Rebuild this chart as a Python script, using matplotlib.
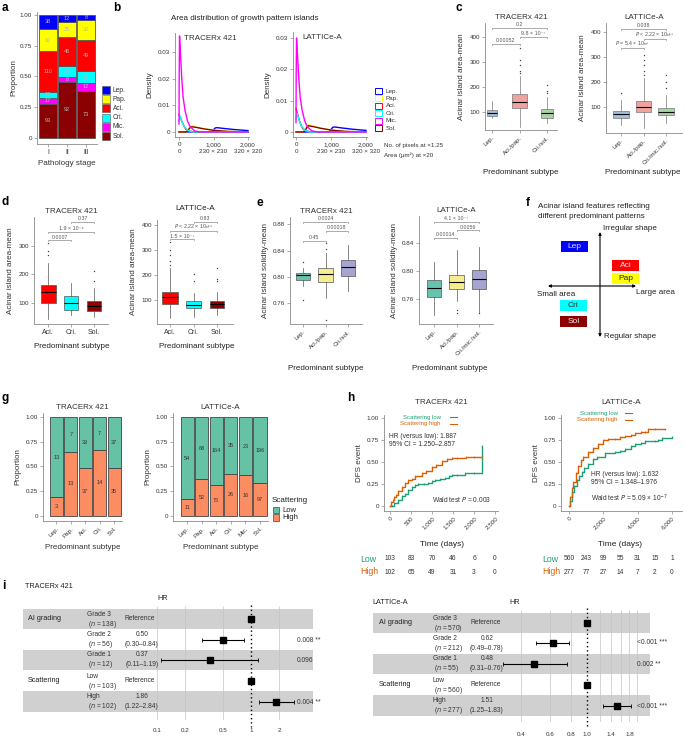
import numpy as np
import matplotlib.pyplot as plt
import matplotlib.transforms as mtransforms
from matplotlib.patches import Rectangle, FancyArrowPatch
from matplotlib.ticker import NullLocator

plt.rcParams['font.family'] = ['Liberation Sans', 'DejaVu Sans']

W, H = 685, 736

# ---------------- data ----------------
pattern_names = ['Lep.', 'Pap.', 'Aci.', 'Cri.', 'Mic.', 'Sol.']
pattern_colors = ['#0000FF', '#FFFF00', '#FF0000', '#00FFFF', '#FF00FF', '#8B0000']

# a: counts per pathology stage
stages = ['I', 'II', 'III']
stage_lep = [38, 12, 8]
stage_pap = [62, 25, 30]
stage_aci = [110, 46, 49]
stage_cri = [17, 19, 18]
stage_mic = [17, 8, 12]
stage_sol = [93, 92, 73]

# b: density curves (pixels at x1.25)
dens_x_mic = [0, 5, 15, 40, 80, 120, 175, 250, 320, 450, 600, 2000]
dens_tx_mic = [0.003, 0.02, 0.036, 0.030, 0.020, 0.013, 0.008, 0.004, 0.002, 0.0004, 0, 0]
dens_la_mic = [0.003, 0.018, 0.030, 0.025, 0.017, 0.011, 0.007, 0.0035, 0.0017, 0.0004, 0, 0]
dens_x_aci = [0, 50, 100, 150, 200, 300, 400, 600, 2000]
dens_tx_aci = [0.0065, 0.005, 0.0035, 0.002, 0.001, 0.0003, 0.0001, 0, 0]
dens_la_aci = [0.0075, 0.0055, 0.0035, 0.002, 0.001, 0.0003, 0.0001, 0, 0]
dens_x_cri = [0, 30, 80, 150, 250, 400, 2000]
dens_tx_cri = [0.004, 0.006, 0.004, 0.002, 0.0006, 0, 0]
dens_la_cri = [0.004, 0.006, 0.004, 0.002, 0.0006, 0, 0]
dens_x_mid = [0, 200, 260, 300, 350, 400, 500, 700, 1000, 1400, 2000]
dens_tx_pap = [0, 0, 0.0005, 0.0015, 0.0022, 0.0021, 0.0018, 0.0012, 0.0007, 0.0002, 0]
dens_tx_sol = [0, 0, 0.0004, 0.0013, 0.0019, 0.0019, 0.0017, 0.0012, 0.0006, 0.0002, 0]
dens_la_pap = [0, 0, 0.0005, 0.0016, 0.0023, 0.0022, 0.0018, 0.0012, 0.0007, 0.0002, 0]
dens_la_sol = [0, 0, 0.0004, 0.0013, 0.0020, 0.0019, 0.0017, 0.0012, 0.0006, 0.0002, 0]
dens_x_lep = [0, 950, 1000, 1050, 1100, 1300, 1600, 2000]
dens_tx_lep = [0, 0, 0.0008, 0.0015, 0.0016, 0.0013, 0.0009, 0.0005]
dens_la_lep = [0, 0, 0.0008, 0.0015, 0.0016, 0.0013, 0.0009, 0.0005]

# c: acinar island area-mean (whislo, q1, med, q3, whishi)
c_tx_groups = ['Lep.', 'Aci./pap.', 'Cri./sol.']
c_tx_box = [[75, 85, 95, 110, 145], [40, 115, 141, 171, 244], [55, 76, 95, 112, 160]]
c_tx_out = [[], [355, 310, 290, 265, 255], [210, 185, 175]]
c_tx_sig = [(1, 3, 437, '0.2'), (2, 3, 400, '9.8 × 10⁻⁷'), (1, 2, 372, '0.00052')]
c_la_groups = ['Lep.', 'Aci./pap.', 'Cri./mic./sol.']
c_la_box = [[28, 55, 72, 85, 130], [16, 79, 101, 124, 216], [36, 68, 81, 95, 148]]
c_la_out = [[155], [308, 290, 270, 245, 230], [230, 200, 175]]
c_la_sig = [(1, 3, 412, '0.038'), (2, 3, 372, '$P$ < 2.22 × 10⁻¹⁶'), (1, 2, 336, '$P$ = 5.4 × 10⁻⁶')]

# d
d_groups = ['Aci.', 'Cri.', 'Sol.']
d_tx_box = [[42, 99, 138, 161, 240], [56, 74, 98, 124, 170], [50, 70, 88, 105, 151]]
d_tx_out = [[310, 280, 265], [], [210, 175]]
d_tx_sig = [(2, 3, 383, '0.37'), (1, 3, 348, '1.9 × 10⁻⁴'), (1, 2, 319, '0.0007')]
d_la_box = [[28, 84, 112, 131, 228], [33, 67, 80, 97, 128], [40, 67, 84, 97, 133]]
d_la_out = [[333, 300, 280, 255, 240], [205, 175], [230, 185, 175]]
d_la_sig = [(2, 3, 413, '0.83'), (1, 3, 377, '$P$ < 2.22 × 10⁻¹⁶'), (1, 2, 344, '1.5 × 10⁻⁷')]

# e: solidity-mean
e_tx_groups = ['Lep.', 'Aci./pap.', 'Cri./sol.']
e_tx_box = [[0.786, 0.7954, 0.803, 0.8056, 0.813], [0.768, 0.793, 0.804, 0.814, 0.837],
            [0.778, 0.802, 0.815, 0.826, 0.849]]
e_tx_out = [[0.765, 0.822], [0.735, 0.851, 0.843], []]
e_tx_sig = [(1, 3, 0.884, '0.0024'), (2, 3, 0.870, '0.00018'), (1, 2, 0.855, '0.45')]
e_la_groups = ['Lep.', 'Aci./pap.', 'Cri./mic./sol.']
e_la_box = [[0.737, 0.763, 0.7765, 0.787, 0.813], [0.757, 0.774, 0.784, 0.795, 0.83],
            [0.742, 0.775, 0.788, 0.801, 0.834]]
e_la_out = [[], [0.745, 0.740], [0.740]]
e_la_sig = [(1, 3, 0.870, '4.1 × 10⁻⁷'), (2, 3, 0.858, '0.0056'), (1, 2, 0.847, '0.00014')]

# g: scattering counts
g_tx_groups = ['Lep.', 'Pap.', 'Aci.', 'Cri.', 'Sol.']
g_tx_low = [13, 7, 39, 7, 37]
g_tx_high = [3, 13, 37, 14, 35]
g_la_groups = ['Lep.', 'Pap.', 'Aci.', 'Cri.', 'Mic.', 'Sol.']
g_la_low = [54, 88, 164, 35, 23, 196]
g_la_high = [11, 52, 75, 26, 16, 97]

# h: DFS event curves
km_tx_high_t = [0, 30, 60, 100, 150, 200, 280, 350, 420, 516, 600, 754, 850, 992, 1100, 1230, 1350, 1468, 1600, 1800, 2000, 2200]
km_tx_high_s = [0, 0.04, 0.07, 0.10, 0.13, 0.17, 0.22, 0.26, 0.29, 0.31, 0.34, 0.37, 0.40, 0.445, 0.47, 0.51, 0.53, 0.55, 0.55, 0.555, 0.555, 0.555]
km_tx_low_t = [0, 50, 100, 198, 280, 357, 440, 516, 600, 675, 800, 913, 1000, 1071, 1200, 1310, 1400, 1468, 1600, 1786, 2000, 2183, 2200]
km_tx_low_s = [0, 0.005, 0.03, 0.07, 0.11, 0.14, 0.18, 0.22, 0.235, 0.245, 0.25, 0.26, 0.28, 0.30, 0.31, 0.32, 0.34, 0.35, 0.355, 0.37, 0.37, 0.37, 0.68]
km_la_high_t = [0, 50, 150, 250, 400, 540, 700, 835, 1126, 1417, 1700, 2000, 2300, 2680, 3000, 3260, 3600, 3845, 4200, 4450, 4620, 5000, 5590]
km_la_high_s = [0, 0.10, 0.20, 0.27, 0.38, 0.46, 0.52, 0.56, 0.615, 0.66, 0.71, 0.75, 0.76, 0.766, 0.78, 0.80, 0.81, 0.83, 0.84, 0.84, 0.87, 0.87, 0.87]
km_la_low_t = [0, 50, 155, 300, 447, 600, 738, 900, 1126, 1400, 1611, 2097, 2680, 3000, 3260, 3600, 3845, 4200, 4427, 5000, 5200, 5400, 5980]
km_la_low_s = [0, 0.06, 0.16, 0.23, 0.29, 0.34, 0.39, 0.43, 0.48, 0.53, 0.56, 0.60, 0.615, 0.63, 0.65, 0.68, 0.71, 0.72, 0.735, 0.74, 0.75, 0.775, 0.785]
risk_tx_times = [0, 500, 1000, 1500, 2000, 2500]
risk_tx_low = [103, 83, 70, 46, 6, 0]
risk_tx_high = [102, 65, 49, 31, 3, 0]
risk_la_times = [0, 1000, 2000, 3000, 4000, 5000, 6000]
risk_la_low = [560, 243, 99, 55, 31, 15, 1]
risk_la_high = [277, 77, 27, 14, 7, 2, 0]

# i: Cox model
fp_rows = ['Grade 3', 'Grade 2', 'Grade 1', 'Low', 'High']
fp_tx_n = [138, 56, 12, 103, 102]
fp_tx_hr = [1, 0.50, 0.37, 1, 1.86]
fp_tx_lo = [np.nan, 0.30, 0.11, np.nan, 1.22]
fp_tx_hi = [np.nan, 0.84, 1.19, np.nan, 2.84]
fp_tx_p = ['', '0.008 **', '0.096', '', '0.004 **']
fp_la_n = [570, 212, 55, 560, 277]
fp_la_hr = [1, 0.62, 0.48, 1, 1.51]
fp_la_lo = [np.nan, 0.49, 0.31, np.nan, 1.25]
fp_la_hi = [np.nan, 0.78, 0.76, np.nan, 1.83]
fp_la_p = ['', '<0.001 ***', '0.002 **', '', '<0.001 ***']

# ---------------- helpers ----------------
AXC = '#8a8a8a'
TXC = '#333333'
fig = plt.figure(figsize=(W / 100, H / 100), dpi=100)
T = mtransforms.Affine2D().scale(1 / W, -1 / H).translate(0, 1) + fig.transFigure


def add_ax(x0, y0, x1, y1):
    return fig.add_axes([x0 / W, 1 - y1 / H, (x1 - x0) / W, (y1 - y0) / H])


def txt(x, y, s, **kw):
    kw.setdefault('fontsize', 6)
    kw.setdefault('color', '#222222')
    fig.text(x, y, s, transform=T, **kw)


def style(ax, ls=4.5):
    ax.spines[['top', 'right']].set_visible(False)
    for s in ['left', 'bottom']:
        ax.spines[s].set_color(AXC)
        ax.spines[s].set_linewidth(0.6)
    ax.tick_params(length=2, width=0.5, color=AXC, labelsize=ls, pad=1.5, labelcolor=TXC)
    ax.set_facecolor('none')


def boxes(ax, stats, outs, colors, widths, ec='#666666'):
    bx = [dict(whislo=s[0], q1=s[1], med=s[2], q3=s[3], whishi=s[4], fliers=o) for s, o in zip(stats, outs)]
    b = ax.bxp(bx, positions=[1, 2, 3], widths=widths, patch_artist=True, showcaps=False,
               boxprops=dict(lw=0.5, edgecolor=ec), medianprops=dict(color='k', lw=0.8),
               whiskerprops=dict(color=ec, lw=0.5),
               flierprops=dict(marker='o', ms=1.0, mfc='#444444', mec='none'))
    for p, c in zip(b['boxes'], colors):
        p.set_facecolor(c)


def brackets(ax, sig):
    y0, y1 = ax.get_ylim()
    d = 0.012 * (y1 - y0)
    for i, j, y, lab in sig:
        ax.plot([i, i, j, j], [y - d, y, y, y - d], color=AXC, lw=0.5, clip_on=False)
        ax.text((i + j) / 2, y + 0.4 * d, lab, ha='center', va='bottom', fontsize=3.8, color='#555555')


# ---------------- panel letters ----------------
for lab, x, y in [('a', 2, 8), ('b', 113, 8), ('c', 456, 8), ('d', 2, 202), ('e', 257, 203),
                  ('f', 526, 203), ('g', 2, 398), ('h', 347, 398), ('i', 2, 586)]:
    txt(x, y, lab, fontsize=8.5, fontweight='bold', color='k', va='center')

# ---------------- a ----------------
ax = add_ax(37, 12, 97, 144)
style(ax)
stacks = [stage_sol, stage_mic, stage_cri, stage_aci, stage_pap, stage_lep]
stack_cols = pattern_colors[::-1]
totals = np.sum(stacks, axis=0)
bottom = np.zeros(3)
for vals, col in zip(stacks, stack_cols):
    prop = np.array(vals) / totals
    ax.bar([1, 2, 3], prop, bottom=bottom, width=0.95, color=col, edgecolor='#555555', lw=0.6)
    for k in range(3):
        ax.text(k + 1, bottom[k] + prop[k] / 2, str(vals[k]), ha='center', va='center', fontsize=4,
                color='#b8b8b8')
    bottom += prop
ax.set_xlim(0.42, 3.58)
ax.set_ylim(-0.049, 1.024)
ax.set_yticks([0, 0.25, 0.5, 0.75, 1])
ax.set_yticklabels(['0', '0.25', '0.50', '0.75', '1.00'])
ax.set_xticks([1, 2, 3])
ax.set_xticklabels(stages)
ax.tick_params(axis='x', labelsize=5)
ax.set_xlabel('Pathology stage', fontsize=5.8, color=TXC, labelpad=3)
ax.set_ylabel('Proportion', fontsize=5.8, color=TXC, labelpad=2)
for k, (nm, col) in enumerate(zip(pattern_names, pattern_colors)):
    yc = 90 + k * 9.2
    fig.add_artist(Rectangle((102, yc - 4), 8, 8, transform=T, fc=col, ec='#555555', lw=0.4))
    txt(113, yc, nm, fontsize=4.8, va='center', color=TXC)

# ---------------- b ----------------
txt(171, 18, 'Area distribution of growth pattern islands', fontsize=5.8, va='center')
dens_sets = [
    (add_ax(175, 33, 249, 137), (-0.0019, 0.0371), (-116, 2029), 'TRACERx 421',
     [dens_tx_lep, dens_tx_pap, dens_tx_aci, dens_tx_cri, dens_tx_mic, dens_tx_sol]),
    (add_ax(293, 32, 367, 137), (-0.0016, 0.0319), (-86, 2029), 'LATTICe-A',
     [dens_la_lep, dens_la_pap, dens_la_aci, dens_la_cri, dens_la_mic, dens_la_sol]),
]
xs_all = [dens_x_lep, dens_x_mid, dens_x_aci, dens_x_cri, dens_x_mic, dens_x_mid]
for ax, yl, xl, title, ys_all in dens_sets:
    style(ax)
    for k in [0, 1, 5, 2, 3, 4]:
        ax.plot(xs_all[k], ys_all[k], color=pattern_colors[k], lw=1.0)
    ax.set_ylim(*yl)
    ax.set_xlim(*xl)
    ax.set_yticks([0, 0.01, 0.02, 0.03])
    ax.set_yticklabels(['0', '0.01', '0.02', '0.03'])
    ax.set_xticks([0, 1000, 2000])
    ax.set_xticklabels(['0\n0', '1,000\n230 × 230', '2,000\n320 × 320'], linespacing=1.45)
    ax.text(0.12, 0.985, title, transform=ax.transAxes, fontsize=5.8, va='top', color=TXC)
    ax.set_ylabel('Density', fontsize=5.8, color=TXC, labelpad=3)
txt(384, 146, 'No. of pixels at ×1.25', fontsize=4.5, va='center', color=TXC)
txt(384, 155.5, 'Area (μm²) at ×20', fontsize=4.5, va='center', color=TXC)
for k, (nm, col) in enumerate(zip(pattern_names, pattern_colors)):
    yc = 91 + k * 7.4
    fig.add_artist(Rectangle((375, yc - 3), 7, 6, transform=T, fc='white', ec=col, lw=0.7))
    txt(386, yc, nm, fontsize=4.5, va='center', color=TXC)

# ---------------- c ----------------
c_cols = ['#a3bfdc', '#f2a29c', '#a9d3a2']
ax = add_ax(485, 23, 557, 130)
style(ax)
boxes(ax, c_tx_box, c_tx_out, c_cols, [0.38, 0.55, 0.42], ec='#777777')
ax.set_xlim(0.745, 3.36)
ax.set_ylim(28, 456)
ax.set_yticks([100, 200, 300, 400])
brackets(ax, c_tx_sig)
ax.set_xticks([1, 2, 3])
ax.set_xticklabels(c_tx_groups, rotation=45, ha='right', rotation_mode='anchor')
ax.set_ylabel('Acinar island area-mean', fontsize=5.8, color=TXC, labelpad=3)
ax.set_title('TRACERx 421', fontsize=5.8, color=TXC, pad=3)
txt(521, 172, 'Predominant subtype', fontsize=5.8, ha='center', va='center')

ax = add_ax(606, 23, 682, 133)
style(ax)
boxes(ax, c_la_box, c_la_out, c_cols, [0.67, 0.67, 0.67], ec='#777777')
ax.set_xlim(0.333, 3.71)
ax.set_ylim(-4, 436)
ax.set_yticks([100, 200, 300, 400])
brackets(ax, c_la_sig)
ax.set_xticks([1, 2, 3])
ax.set_xticklabels(c_la_groups, rotation=45, ha='right', rotation_mode='anchor')
ax.set_ylabel('Acinar island area-mean', fontsize=5.8, color=TXC, labelpad=3)
ax.set_title('LATTICe-A', fontsize=5.8, color=TXC, pad=3)
txt(643, 172, 'Predominant subtype', fontsize=5.8, ha='center', va='center')

# ---------------- d ----------------
d_cols = ['#FF0000', '#00FFFF', '#8B0000']
ax = add_ax(34, 217, 108, 324)
style(ax)
boxes(ax, d_tx_box, d_tx_out, d_cols, [0.65, 0.62, 0.62], ec='#555555')
ax.set_xlim(0.39, 3.6)
ax.set_ylim(24.6, 400)
ax.set_yticks([100, 200, 300])
brackets(ax, d_tx_sig)
ax.set_xticks([1, 2, 3])
ax.set_xticklabels(d_groups)
ax.tick_params(axis='x', labelsize=5)
ax.set_ylabel('Acinar island area-mean', fontsize=5.8, color=TXC, labelpad=3)
ax.set_title('TRACERx 421', fontsize=5.8, color=TXC, pad=3)
txt(72, 347, 'Predominant subtype', fontsize=5.8, ha='center', va='center')

ax = add_ax(157, 220, 233, 324)
style(ax)
boxes(ax, d_la_box, d_la_out, d_cols, [0.65, 0.62, 0.62], ec='#555555')
ax.set_xlim(0.447, 3.68)
ax.set_ylim(4, 420)
ax.set_yticks([100, 200, 300, 400])
brackets(ax, d_la_sig)
ax.set_xticks([1, 2, 3])
ax.set_xticklabels(d_groups)
ax.tick_params(axis='x', labelsize=5)
ax.set_ylabel('Acinar island area-mean', fontsize=5.8, color=TXC, labelpad=3)
txt(195, 209, 'LATTICe-A', fontsize=5.8, ha='center', va='center')
txt(197, 347, 'Predominant subtype', fontsize=5.8, ha='center', va='center')

# ---------------- e ----------------
e_cols = ['#66c4ae', '#f6ee8e', '#a8a4d2']
ax = add_ax(290, 217, 362, 324)
style(ax)
boxes(ax, e_tx_box, e_tx_out, e_cols, [0.62, 0.65, 0.65], ec='#555555')
ax.set_xlim(0.42, 3.62)
ax.set_ylim(0.7285, 0.891)
ax.set_yticks([0.76, 0.80, 0.84, 0.88])
ax.set_yticklabels(['0.76', '0.80', '0.84', '0.88'])
brackets(ax, e_tx_sig)
ax.set_xticks([1, 2, 3])
ax.set_xticklabels(e_tx_groups, rotation=45, ha='right', rotation_mode='anchor')
ax.set_ylabel('Acinar island solidity-mean', fontsize=5.8, color=TXC, labelpad=3)
ax.set_title('TRACERx 421', fontsize=5.8, color=TXC, pad=3)
txt(326, 368, 'Predominant subtype', fontsize=5.8, ha='center', va='center')

ax = add_ax(419, 216, 493, 324)
style(ax)
boxes(ax, e_la_box, e_la_out, e_cols, [0.62, 0.65, 0.65], ec='#555555')
ax.set_xlim(0.333, 3.62)
ax.set_ylim(0.7248, 0.878)
ax.set_yticks([0.76, 0.80, 0.84])
ax.set_yticklabels(['0.76', '0.80', '0.84'])
brackets(ax, e_la_sig)
ax.set_xticks([1, 2, 3])
ax.set_xticklabels(e_la_groups, rotation=45, ha='right', rotation_mode='anchor')
ax.set_ylabel('Acinar island solidity-mean', fontsize=5.8, color=TXC, labelpad=3)
ax.set_title('LATTICe-A', fontsize=5.8, color=TXC, pad=3)
txt(450, 368, 'Predominant subtype', fontsize=5.8, ha='center', va='center')

# ---------------- f ----------------
txt(538, 207, 'Acinar island features reflecting', fontsize=5.8, va='center')
txt(538, 217, 'different predominant patterns', fontsize=5.8, va='center')
for pa, pb in [((600, 337), (600, 232)), ((548, 286), (636, 286))]:
    fig.add_artist(FancyArrowPatch(pa, pb, transform=T, arrowstyle='<|-|>', mutation_scale=4,
                                   lw=0.8, color='k', shrinkA=0, shrinkB=0))
txt(603, 228, 'Irregular shape', fontsize=5.8, va='center')
txt(604, 337, 'Regular shape', fontsize=5.8, va='center')
txt(537, 294, 'Small area', fontsize=5.8, va='center')
txt(636, 292, 'Large area', fontsize=5.8, va='center')
for nm, x0, y0, fc, tc in [('Lep', 561, 241, '#0000FF', '#dddddd'), ('Aci', 612, 260, '#FF0000', '#eeeeee'),
                            ('Pap', 612, 273, '#FFFF00', '#222222'), ('Cri', 560, 300, '#00FFFF', '#333333'),
                            ('Sol', 560, 316, '#8B0000', '#eeeeee')]:
    fig.add_artist(Rectangle((x0, y0), 27, 11, transform=T, fc=fc, ec='none'))
    txt(x0 + 13.5, y0 + 5.7, nm, fontsize=6, ha='center', va='center', color=tc)

# ---------------- g ----------------
low_c, high_c = '#66c2a5', '#fc8d62'
for (x0, x1, title, groups, lows, highs, xl) in [
        (43, 122, 'TRACERx 421', g_tx_groups, g_tx_low, g_tx_high, (0.0625, 5.55)),
        (173, 268, 'LATTICe-A', g_la_groups, g_la_low, g_la_high, (0.034, 6.55))]:
    ax = add_ax(x0, 413, x1, 521)
    style(ax)
    pos = np.arange(1, len(groups) + 1)
    tot = np.array(lows) + np.array(highs)
    ph = np.array(highs) / tot
    ax.bar(pos, ph, width=0.9, color=high_c, edgecolor='#444444', lw=0.6)
    ax.bar(pos, 1 - ph, bottom=ph, width=0.9, color=low_c, edgecolor='#444444', lw=0.6)
    for k in range(len(groups)):
        ax.text(pos[k], ph[k] / 2, str(highs[k]), ha='center', va='center', fontsize=4, color='#333333')
        ax.text(pos[k], ph[k] + (1 - ph[k]) / 2, str(lows[k]), ha='center', va='center', fontsize=4,
                color='#333333')
    ax.set_xlim(*xl)
    ax.set_ylim(-0.051, 1.04)
    ax.set_yticks([0, 0.25, 0.5, 0.75, 1])
    ax.set_yticklabels(['0', '0.25', '0.50', '0.75', '1.00'])
    ax.set_xticks(pos)
    ax.set_xticklabels(groups, rotation=45, ha='right', rotation_mode='anchor')
    ax.set_ylabel('Proportion', fontsize=5.8, color=TXC, labelpad=3)
    ax.set_title(title, fontsize=5.8, color=TXC, pad=3)
    ax.set_xlabel('Predominant subtype', fontsize=5.8, color=TXC, labelpad=4)
txt(272, 501, 'Scattering', fontsize=5.8, va='center')
for k, (nm, col) in enumerate([('Low', low_c), ('High', high_c)]):
    yc = 510 + k * 7.5
    fig.add_artist(Rectangle((273, yc - 3.3), 6.5, 6.6, transform=T, fc=col, ec='#444444', lw=0.5))
    txt(282, yc, nm, fontsize=5.5, va='center')

# ---------------- h ----------------
km_low_c, km_high_c = '#1b9e77', '#d95f02'
km_sets = [
    (384, 498, (-143, 2571), 'TRACERx 421', km_tx_low_t, km_tx_low_s, km_tx_high_t, km_tx_high_s,
     risk_tx_times, risk_tx_low, risk_tx_high, [0, 500, 1000, 1500, 2000, 2500],
     ['0', '500', '1,000', '1,500', '2,000', '2,500'], 442, 360),
    (561, 682, (-466, 6589), 'LATTICe-A', km_la_low_t, km_la_low_s, km_la_high_t, km_la_high_s,
     risk_la_times, risk_la_low, risk_la_high, [0, 2000, 4000, 6000],
     ['0', '2,000', '4,000', '6,000'], 620, 542),
]
for (x0, x1, xl, title, lt, ls_, ht, hs, rt, rl, rh, xt, xtl, cx, lx) in km_sets:
    ax = add_ax(x0, 415, x1, 511)
    style(ax)
    ax.step(lt, ls_, where='post', color=km_low_c, lw=1.0)
    ax.step(ht, hs, where='post', color=km_high_c, lw=1.0)
    ax.plot(lt[1:], ls_[1:], '|', ms=2, mew=0.5, color=km_low_c)
    ax.plot(ht[1:], hs[1:], '|', ms=2, mew=0.5, color=km_high_c)
    ax.set_xlim(*xl)
    ax.set_ylim(-0.057, 1.034)
    ax.set_yticks([0, 0.25, 0.5, 0.75, 1])
    ax.set_yticklabels(['0', '0.25', '0.50', '0.75', '1.00'])
    ax.set_xticks(xt)
    ax.set_xticklabels(xtl, rotation=45, ha='right', rotation_mode='anchor')
    ax.set_ylabel('DFS event', fontsize=5.8, color=TXC, labelpad=3)
    ax.set_title(title, fontsize=5.8, color=TXC, pad=8)
    txt(cx, 544, 'Time (days)', fontsize=6, ha='center', va='center')
    # risk table
    txt(lx, 559, 'Low', fontsize=6.3, va='center', color=km_low_c)
    txt(lx, 572, 'High', fontsize=6.3, va='center', color=km_high_c)
    for t, a, b in zip(rt, rl, rh):
        xp = x0 + (t - xl[0]) / (xl[1] - xl[0]) * (x1 - x0)
        txt(xp, 559, str(a), fontsize=4.8, ha='center', va='center', color=TXC)
        txt(xp, 572, str(b), fontsize=4.8, ha='center', va='center', color=TXC)

# h legends and stats text
for (xr, xl0, y0, y1) in [(441, 450, 417, 424), (618, 625, 413, 420)]:
    txt(xr, y0, 'Scattering low', fontsize=4.3, ha='right', va='center', color=km_low_c)
    txt(xr, y1, 'Scattering high', fontsize=4.3, ha='right', va='center', color=km_high_c)
    fig.add_artist(plt.Line2D([xl0, xl0 + 7], [y0, y0], transform=T, color=km_low_c, lw=0.8))
    fig.add_artist(plt.Line2D([xl0, xl0 + 7], [y1, y1], transform=T, color=km_high_c, lw=0.8))
txt(389, 437, 'HR (versus low): 1.887', fontsize=4.8, va='center', color=TXC)
txt(389, 444, '95% CI = 1.250–2.857', fontsize=4.8, va='center', color=TXC)
txt(432, 499, 'Wald test $P$ = 0.003', fontsize=4.8, va='center', color=TXC)
txt(591, 474, 'HR (versus low): 1.632', fontsize=4.8, va='center', color=TXC)
txt(591, 482, '95% CI = 1.348–1.976', fontsize=4.8, va='center', color=TXC)
txt(591, 498, 'Wald test $P$ = 5.09 × 10$^{-7}$', fontsize=4.8, va='center', color=TXC)

# ---------------- i ----------------
fp_sets = [
    dict(x0=23, x1=313, dec=94, one=251, yc=[619, 640, 660, 681, 702], bands=[(609, 629), (650, 670), (691, 712)],
         top=603, bot=720, dtop=605, dbot=727, n=fp_tx_n, hr=fp_tx_hr, lo=fp_tx_lo, hi=fp_tx_hi, p=fp_tx_p,
         name='TRACERx 421', namex=25, namey=587, hrx=163, hry=599, grpx=28, rowx=87, refx=125, hrcx=142, px=297,
         ticks=[0.1, 0.2, 0.5, 1, 2], tlabs=['0.1', '0.2', '0.5', '1', '2'], grid=[0.1, 0.2, 0.5, 2], tly=729),
    dict(x0=373, x1=650, dec=166, one=587, yc=[623, 643, 664, 685, 706], bands=[(613, 633), (654, 674), (695, 716)],
         top=607, bot=722, dtop=608, dbot=727, n=fp_la_n, hr=fp_la_hr, lo=fp_la_lo, hi=fp_la_hi, p=fp_la_p,
         name='LATTICe-A', namex=372, namey=602, hrx=515, hry=602, grpx=379, rowx=433, refx=471, hrcx=487, px=637,
         ticks=[0.4, 0.6, 0.8, 1.0, 1.4, 1.8], tlabs=['0.4', '0.6', '0.8', '1.0', '1.4', '1.8'],
         grid=[0.4, 0.6, 0.8, 1.2, 1.4, 1.6, 1.8, 2.0], tly=732),
]
for s in fp_sets:
    ax = add_ax(s['x0'], s['top'], s['x1'], s['bot'])
    ax.set_xscale('log')
    ax.set_xlim(10 ** (-(s['one'] - s['x0']) / s['dec']), 10 ** ((s['x1'] - s['one']) / s['dec']))
    ax.set_ylim(s['bot'], s['top'])
    for sp in ax.spines.values():
        sp.set_visible(False)
    ax.set_facecolor('none')
    for b0, b1 in s['bands']:
        ax.axhspan(b0, b1, color='#d0d0d0', lw=0, zorder=0)
    ax.vlines(s['grid'], s['top'] + 3, s['bot'], color='#c4c4c4', lw=0.5, zorder=1)
    ax.vlines(1, s['dtop'], s['dbot'], color='k', lw=1.0, linestyles=(0, (1, 2)), zorder=2, clip_on=False)
    hr = np.array(s['hr'])
    lo = np.array(s['lo'])
    hi = np.array(s['hi'])
    ok = ~np.isnan(lo)
    ax.errorbar(hr[ok], np.array(s['yc'])[ok], xerr=[hr[ok] - lo[ok], hi[ok] - hr[ok]], fmt='none',
                ecolor='k', elinewidth=0.8, capsize=1.5, capthick=0.6, zorder=3)
    ax.plot(hr, s['yc'], 's', ms=5, color='k', zorder=4)
    ax.set_xticks(s['ticks'])
    ax.set_xticklabels(s['tlabs'])
    ax.xaxis.set_minor_locator(NullLocator())
    ax.set_yticks([])
    ax.tick_params(axis='x', length=0, labelsize=4.5, labelcolor=TXC, pad=s['tly'] - s['bot'] - 3)

    txt(s['namex'], s['namey'], s['name'], fontsize=5.2, va='center')
    txt(s['hrx'], s['hry'], 'HR', fontsize=5.2, ha='center', va='center')
    txt(s['grpx'], s['yc'][0], 'AI grading', fontsize=5.2, va='center')
    txt(s['grpx'], s['yc'][3], 'Scattering', fontsize=5.2, va='center')
    for k in range(5):
        y = s['yc'][k]
        txt(s['rowx'], y - 5, fp_rows[k], fontsize=4.8, va='center', color=TXC)
        txt(s['rowx'] + 1, y + 5, '($n$ = %d)' % s['n'][k], fontsize=4.8, va='center', color=TXC)
        if np.isnan(s['lo'][k]):
            txt(s['refx'], y, 'Reference', fontsize=4.8, va='center', color=TXC)
        else:
            txt(s['hrcx'], y - 5, '%.2f' % s['hr'][k], fontsize=4.8, ha='center', va='center', color=TXC)
            txt(s['hrcx'], y + 5, '(%.2f–%.2f)' % (s['lo'][k], s['hi'][k]), fontsize=4.8, ha='center',
                va='center', color=TXC)
        if s['p'][k]:
            txt(s['px'], y, s['p'][k], fontsize=4.8, va='center', color=TXC)

fig.savefig('out.png', dpi=100)
